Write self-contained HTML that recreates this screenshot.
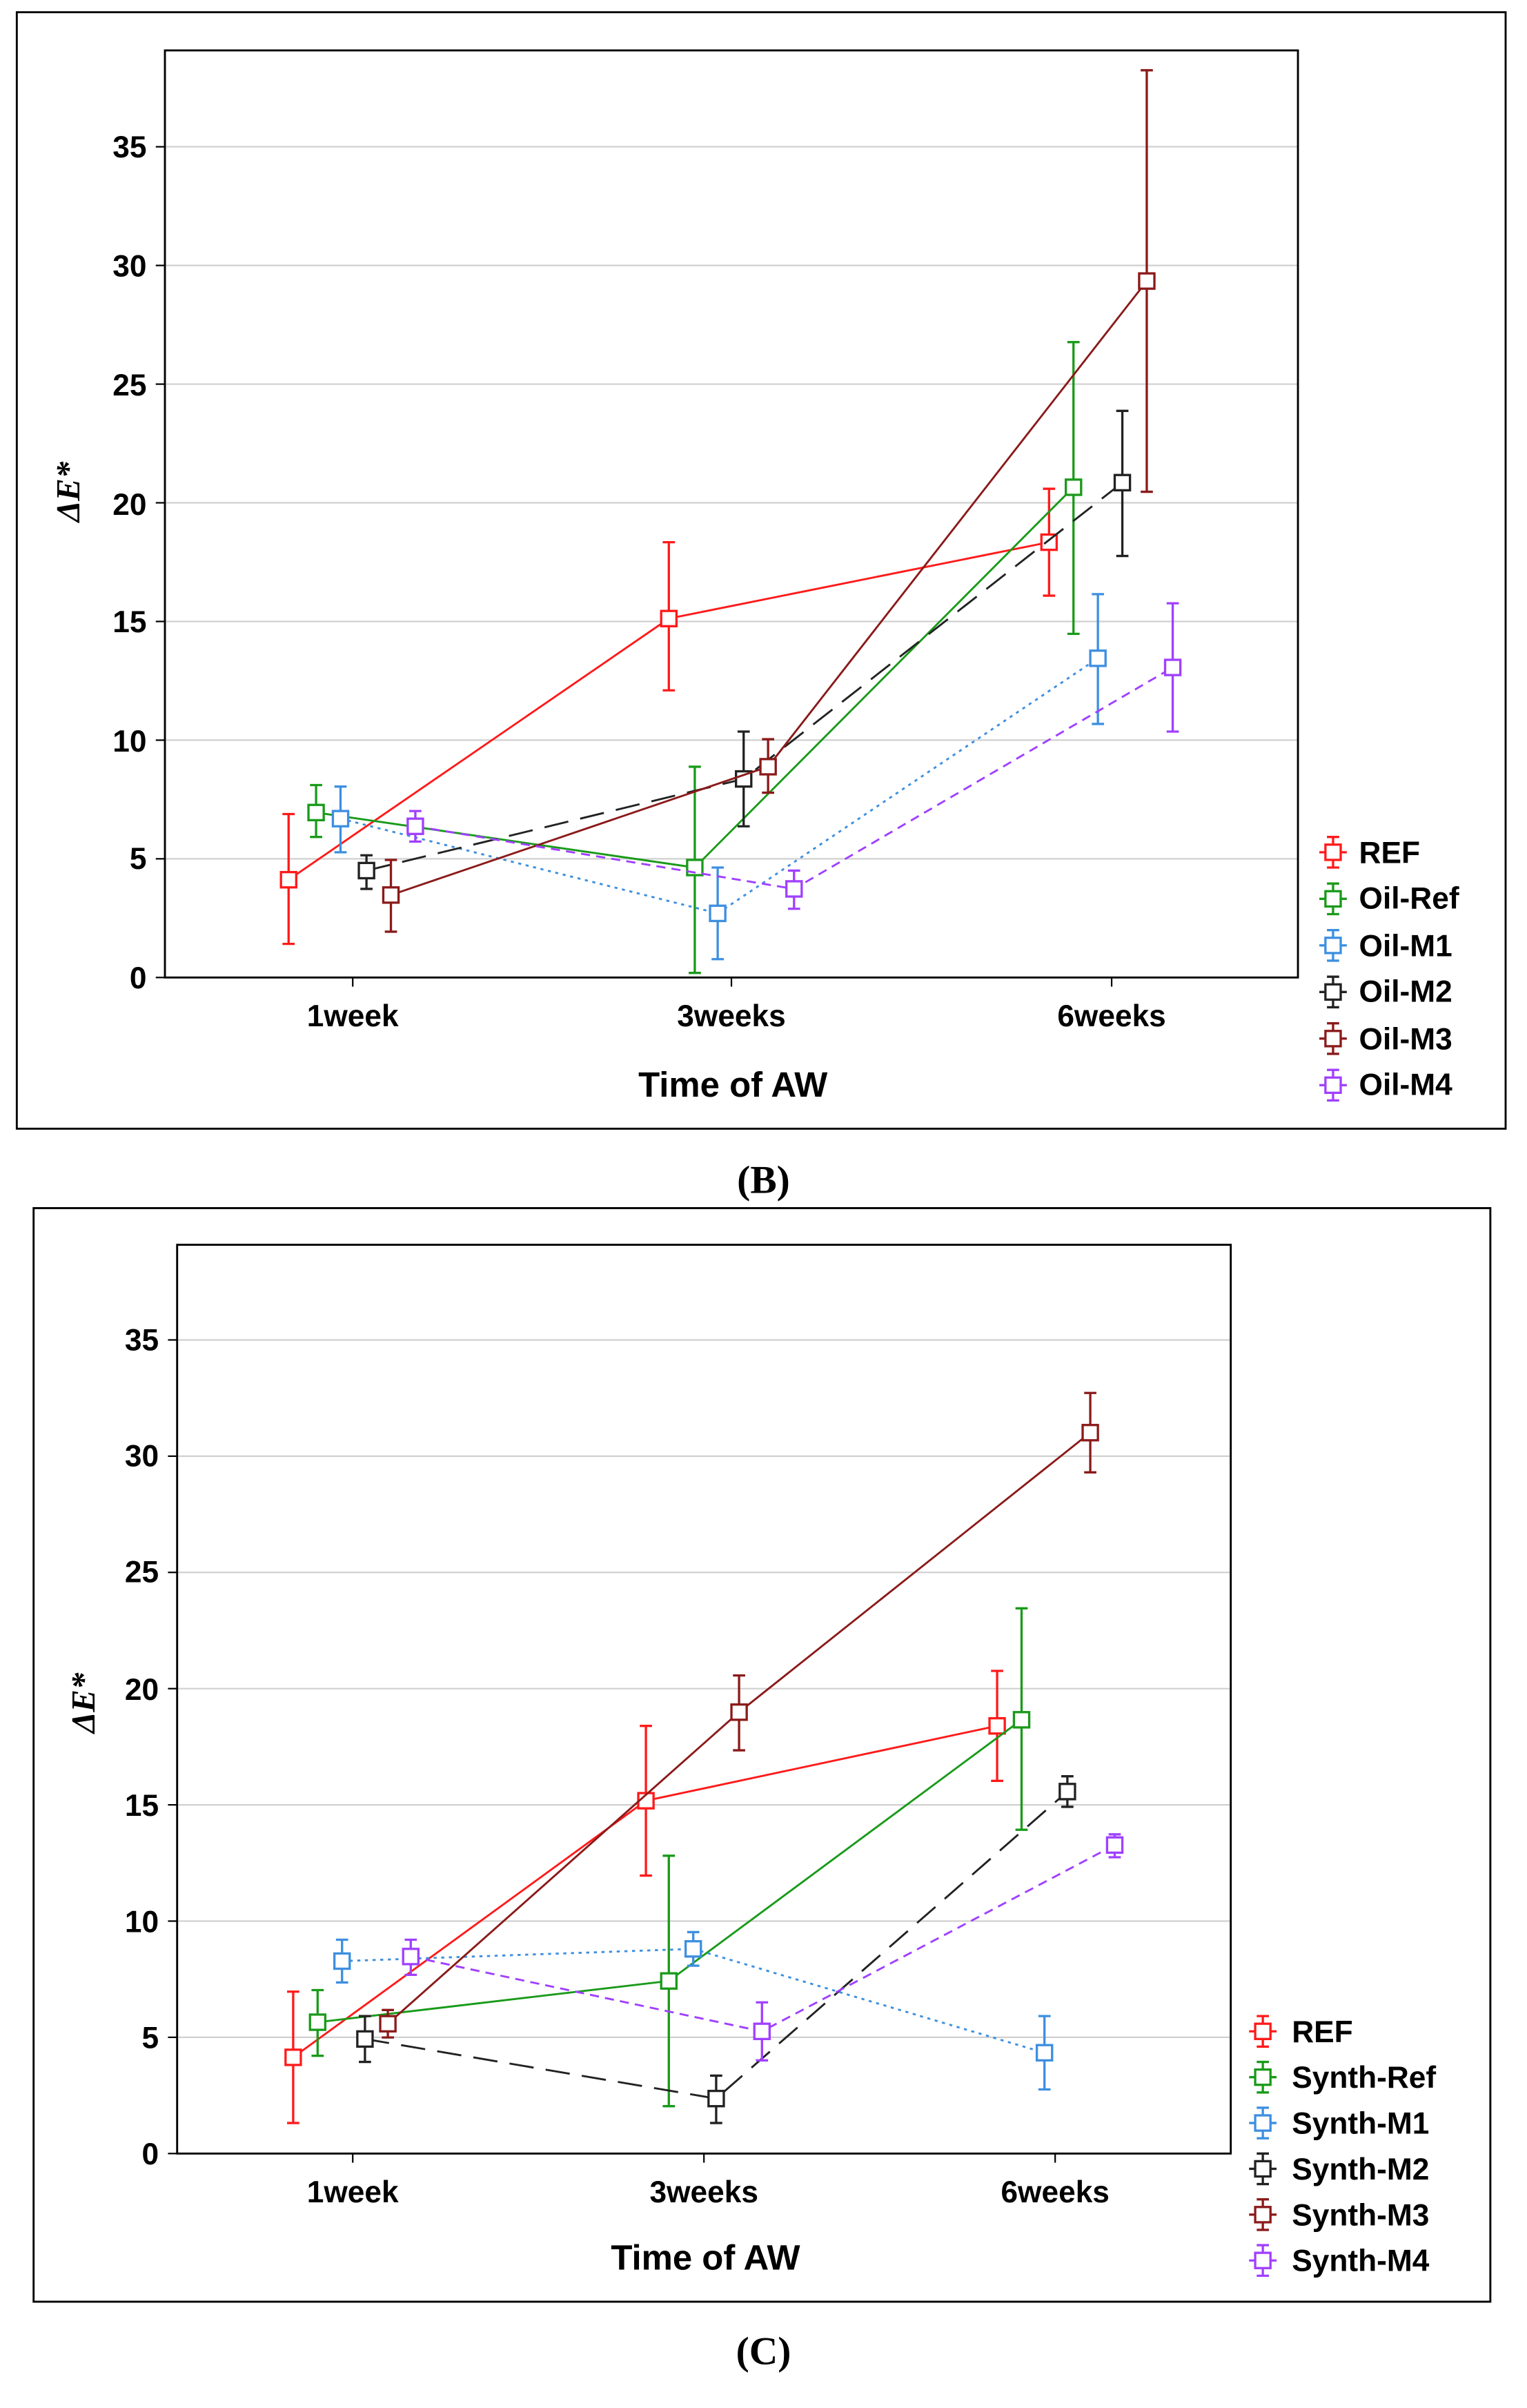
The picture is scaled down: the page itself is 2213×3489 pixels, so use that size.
<!DOCTYPE html>
<html><head><meta charset="utf-8"><style>
html,body{margin:0;padding:0;background:#fff;}
svg{display:block;}
text{font-family:"Liberation Sans",sans-serif;font-weight:bold;}
</style></head><body>
<svg id="s" width="2213" height="3489" viewBox="0 0 1000 1576.6" xmlns="http://www.w3.org/2000/svg">
<rect x="0" y="0" width="1000" height="1576.6" fill="#fff"/>
<!-- Panel B -->
<rect x="11" y="8" width="975" height="731" fill="none" stroke="#000" stroke-width="1.3"/>
<g id="gB" stroke="#d0d0d0" stroke-width="1"></g>
<rect x="108" y="33" width="742" height="607" fill="none" stroke="#000" stroke-width="1.3"/>
<g font-size="20" text-anchor="end">
<text x="96" y="647">0</text><text x="96" y="569">5</text><text x="96" y="492">10</text><text x="96" y="414">15</text><text x="96" y="337">20</text><text x="96" y="259">25</text><text x="96" y="181">30</text><text x="96" y="103">35</text>
</g>
<g font-size="20" text-anchor="middle">
<text x="231" y="672">1week</text><text x="479" y="672">3weeks</text><text x="728" y="672">6weeks</text>
</g>
<text x="480" y="718" font-size="23" text-anchor="middle">Time of AW</text>
<text transform="translate(52,322) rotate(-90)" font-size="22" text-anchor="middle" style="font-family:'Liberation Serif',serif;font-style:italic">ΔE*</text>
<g font-size="20">
<text x="890" y="565">REF</text><text x="890" y="595">Oil-Ref</text><text x="890" y="626">Oil-M1</text><text x="890" y="656">Oil-M2</text><text x="890" y="687">Oil-M3</text><text x="890" y="717">Oil-M4</text>
</g>
<text x="500" y="781" font-size="26" text-anchor="middle" style="font-family:'Liberation Serif',serif">(B)</text>

<!-- Panel C -->
<rect x="22" y="791" width="954" height="716" fill="none" stroke="#000" stroke-width="1.3"/>
<g id="gC" stroke="#d0d0d0" stroke-width="1"></g>
<rect x="116" y="815" width="690" height="595" fill="none" stroke="#000" stroke-width="1.3"/>
<g font-size="20" text-anchor="end">
<text x="104" y="1417">0</text><text x="104" y="1341">5</text><text x="104" y="1265">10</text><text x="104" y="1189">15</text><text x="104" y="1113">20</text><text x="104" y="1036">25</text><text x="104" y="960">30</text><text x="104" y="884">35</text>
</g>
<g font-size="20" text-anchor="middle">
<text x="231" y="1442">1week</text><text x="461" y="1442">3weeks</text><text x="691" y="1442">6weeks</text>
</g>
<text x="462" y="1486" font-size="23" text-anchor="middle">Time of AW</text>
<text transform="translate(62,1115) rotate(-90)" font-size="22" text-anchor="middle" style="font-family:'Liberation Serif',serif;font-style:italic">ΔE*</text>
<g font-size="20">
<text x="846" y="1337">REF</text><text x="846" y="1367">Synth-Ref</text><text x="846" y="1397">Synth-M1</text><text x="846" y="1427">Synth-M2</text><text x="846" y="1457">Synth-M3</text><text x="846" y="1487">Synth-M4</text>
</g>
<text x="500" y="1548" font-size="26" text-anchor="middle" style="font-family:'Liberation Serif',serif">(C)</text>
<g id="data"></g>
</svg>
<script>
var NS="http://www.w3.org/2000/svg";
function el(p,t,a){var e=document.createElementNS(NS,t);for(var k in a)e.setAttribute(k,a[k]);p.appendChild(e);return e;}
var gB=document.getElementById('gB'),gC=document.getElementById('gC'),d=document.getElementById('data');
for(var i=1;i<=7;i++){var y=640-i*77.7;el(gB,'line',{x1:108,x2:850,y1:y,y2:y});}
for(var i=1;i<=7;i++){var y=1410-i*76.1;el(gC,'line',{x1:116,x2:806,y1:y,y2:y});}
[231,479,728].forEach(function(x){el(d,'line',{x1:x,x2:x,y1:640,y2:646,stroke:'#000'});});
[231,461,691].forEach(function(x){el(d,'line',{x1:x,x2:x,y1:1410,y2:1416,stroke:'#000'});});
for(var i=0;i<=7;i++){el(d,'line',{x1:102,x2:108,y1:640-i*77.7,y2:640-i*77.7,stroke:'#000'});el(d,'line',{x1:110,x2:116,y1:1410-i*76.1,y2:1410-i*76.1,stroke:'#000'});}
var C=['#ff1a1a','#1a9a1a','#3d8fe0','#222','#8b1a1a','#a040ff'];
var D=['','','2,3','16,8','','6,4'];
var B=[
[[189,576,533,618],[438,405,355,452],[687,355,320,390]],
[[207,532,514,548],[455,568,502,637],[703,319,224,415]],
[[223,536,515,558],[470,598,568,628],[719,431,389,474]],
[[240,570,560,582],[487,510,479,541],[735,316,269,364]],
[[256,586,563,610],[503,502,484,519],[751,184,46,322]],
[[272,541,531,551],[520,582,570,595],[768,437,395,479]]];
var Cc=[
[[192,1347,1304,1390],[423,1179,1130,1228],[653,1130,1094,1166]],
[[208,1324,1303,1346],[438,1297,1215,1379],[669,1126,1053,1198]],
[[224,1284,1270,1298],[454,1276,1265,1287],[684,1344,1320,1368]],
[[239,1335,1320,1350],[469,1374,1359,1390],[699,1173,1163,1183]],
[[254,1325,1316,1334],[484,1121,1097,1146],[714,938,912,964]],
[[269,1281,1270,1293],[499,1330,1311,1349],[730,1208,1201,1216]]];
function draw(S){S.forEach(function(s,i){
 var pts=s.map(function(p){return p[0]+','+p[1];}).join(' ');
 var a={points:pts,fill:'none',stroke:C[i],'stroke-width':1.3};if(D[i])a['stroke-dasharray']=D[i];
 el(d,'polyline',a);
 s.forEach(function(p){
  el(d,'line',{x1:p[0],x2:p[0],y1:p[2],y2:p[3],stroke:C[i],'stroke-width':1.5});
  el(d,'line',{x1:p[0]-4,x2:p[0]+4,y1:p[2],y2:p[2],stroke:C[i],'stroke-width':1.5});
  el(d,'line',{x1:p[0]-4,x2:p[0]+4,y1:p[3],y2:p[3],stroke:C[i],'stroke-width':1.5});
  el(d,'rect',{x:p[0]-5,y:p[1]-5,width:10,height:10,fill:'#fff',stroke:C[i],'stroke-width':1.5});
 });});}
draw(B);draw(Cc);
function leg(x,y0,st){for(var i=0;i<6;i++){var y=y0+i*st;
 el(d,'line',{x1:x,x2:x,y1:y-10,y2:y+10,stroke:C[i],'stroke-width':1.5});
 el(d,'line',{x1:x-4,x2:x+4,y1:y-10,y2:y-10,stroke:C[i],'stroke-width':1.5});
 el(d,'line',{x1:x-4,x2:x+4,y1:y+10,y2:y+10,stroke:C[i],'stroke-width':1.5});
 el(d,'line',{x1:x-9,x2:x+9,y1:y,y2:y,stroke:C[i],'stroke-width':1.5});
 el(d,'rect',{x:x-5,y:y-5,width:10,height:10,fill:'#fff',stroke:C[i],'stroke-width':1.5});}}
leg(873,558,30.5);leg(827,1330,30);
</script>
</body></html>
